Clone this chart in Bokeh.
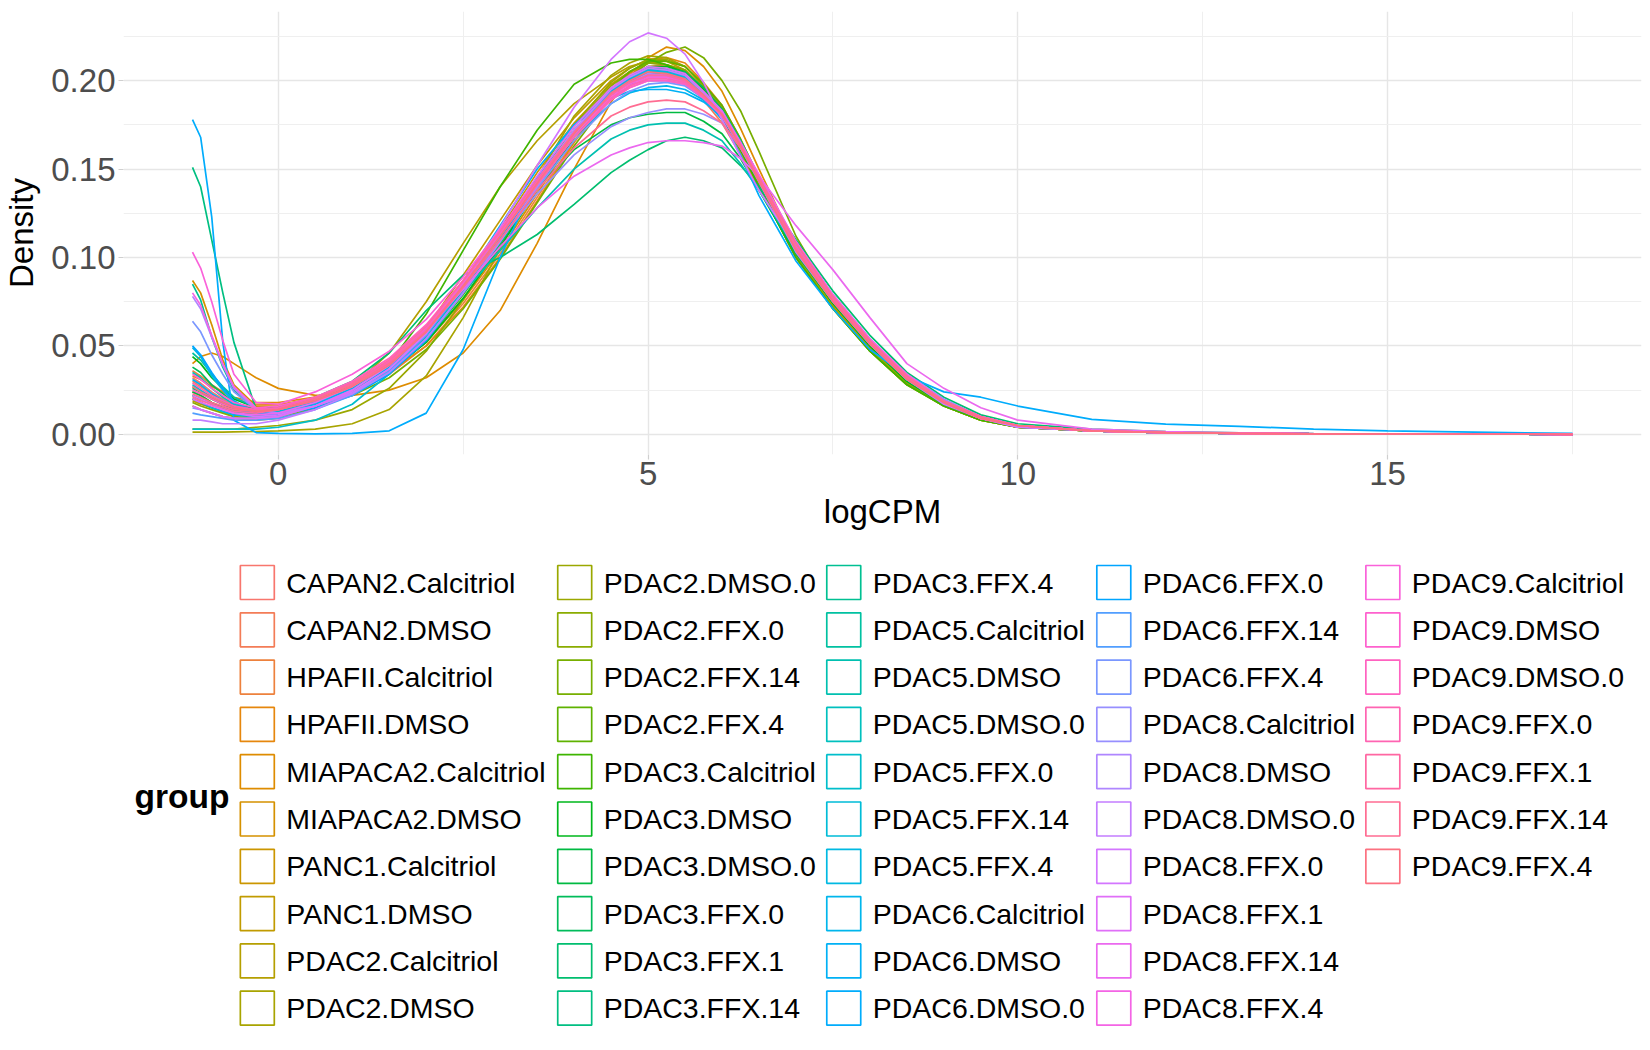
import math
from bokeh.plotting import figure
from bokeh.layouts import column
from bokeh.models import Range1d, FixedTicker, NumeralTickFormatter, ColumnDataSource
from bokeh.core.properties import value
from bokeh.embed import file_html
from bokeh.resources import INLINE

# ---------------- data ----------------
LOGCPM = [-1.16, -1.05, -0.9, -0.75, -0.6, -0.3, 0, 0.5, 1, 1.5, 2, 2.5, 3, 3.5, 4, 4.5,
          4.75, 5, 5.25, 5.5, 5.75, 6, 6.25, 6.5, 7, 7.5, 8, 8.5, 9, 9.5, 10,
          11, 12, 13, 14, 15, 17.5]

GROUPS = [
    "CAPAN2.Calcitriol", "CAPAN2.DMSO", "HPAFII.Calcitriol", "HPAFII.DMSO",
    "MIAPACA2.Calcitriol", "MIAPACA2.DMSO", "PANC1.Calcitriol", "PANC1.DMSO",
    "PDAC2.Calcitriol", "PDAC2.DMSO", "PDAC2.DMSO.0", "PDAC2.FFX.0", "PDAC2.FFX.14",
    "PDAC2.FFX.4", "PDAC3.Calcitriol", "PDAC3.DMSO", "PDAC3.DMSO.0", "PDAC3.FFX.0",
    "PDAC3.FFX.1", "PDAC3.FFX.14", "PDAC3.FFX.4", "PDAC5.Calcitriol", "PDAC5.DMSO",
    "PDAC5.DMSO.0", "PDAC5.FFX.0", "PDAC5.FFX.14", "PDAC5.FFX.4", "PDAC6.Calcitriol",
    "PDAC6.DMSO", "PDAC6.DMSO.0", "PDAC6.FFX.0", "PDAC6.FFX.14", "PDAC6.FFX.4",
    "PDAC8.Calcitriol", "PDAC8.DMSO", "PDAC8.DMSO.0", "PDAC8.FFX.0", "PDAC8.FFX.1",
    "PDAC8.FFX.14", "PDAC8.FFX.4", "PDAC9.Calcitriol", "PDAC9.DMSO", "PDAC9.DMSO.0",
    "PDAC9.FFX.0", "PDAC9.FFX.1", "PDAC9.FFX.14", "PDAC9.FFX.4",
]

DENSITY = [
    [.032,.029,.024,.020,.016,.013,.014,.019,.026,.037,.055,.080,.107,.140,.170,.193,.201,.206,.205,.201,.191,.178,.160,.140,.103,.076,.052,.032,.018,.009,.005,.002,.001,.0005,.0003,.0002,0],
    [.030,.027,.023,.019,.016,.013,.014,.020,.028,.040,.058,.083,.110,.142,.171,.194,.202,.207,.205,.200,.189,.176,.158,.139,.102,.075,.051,.031,.018,.009,.005,.002,.001,.0005,.0003,.0002,0],
    [.036,.033,.028,.024,.020,.017,.017,.020,.025,.034,.050,.074,.102,.134,.166,.192,.201,.208,.209,.206,.196,.184,.166,.145,.105,.076,.051,.031,.017,.009,.004,.002,.001,.0005,.0003,.0002,0],
    [.033,.031,.027,.024,.021,.018,.018,.021,.026,.035,.050,.072,.100,.132,.165,.193,.204,.212,.213,.210,.199,.186,.167,.145,.104,.075,.050,.030,.017,.009,.004,.002,.001,.0005,.0003,.0002,0],
    [.040,.044,.046,.044,.040,.032,.026,.022,.022,.025,.032,.046,.070,.108,.150,.188,.202,.213,.219,.217,.208,.194,.173,.150,.106,.075,.050,.030,.017,.009,.004,.002,.001,.0005,.0003,.0002,0],
    [.087,.080,.062,.042,.028,.016,.016,.021,.027,.036,.052,.076,.104,.136,.168,.194,.203,.210,.211,.208,.198,.185,.166,.144,.102,.073,.049,.030,.017,.009,.004,.002,.001,.0005,.0003,.0002,0],
    [.022,.020,.017,.014,.012,.010,.011,.016,.024,.037,.058,.086,.116,.148,.176,.198,.205,.210,.209,.204,.193,.180,.161,.140,.101,.073,.049,.030,.017,.009,.004,.002,.001,.0005,.0003,.0002,0],
    [.019,.017,.015,.013,.011,.010,.011,.016,.024,.038,.060,.090,.121,.152,.179,.200,.207,.212,.211,.206,.195,.181,.161,.140,.100,.072,.048,.029,.016,.008,.004,.002,.001,.0005,.0003,.0002,0],
    [.016,.014,.012,.010,.009,.008,.009,.015,.027,.046,.075,.108,.140,.166,.187,.202,.208,.211,.209,.205,.194,.180,.160,.140,.100,.071,.047,.028,.016,.008,.004,.002,.001,.0005,.0003,.0002,0],
    [.0013,.0013,.0013,.0013,.0014,.0016,.002,.003,.006,.014,.033,.066,.105,.145,.180,.203,.210,.214,.213,.208,.197,.183,.163,.141,.100,.071,.047,.028,.016,.008,.004,.002,.001,.0005,.0003,.0002,0],
    [.003,.003,.003,.003,.003,.004,.005,.008,.014,.026,.047,.076,.108,.142,.175,.199,.207,.212,.212,.208,.197,.184,.164,.143,.102,.072,.048,.029,.016,.008,.004,.002,.001,.0005,.0003,.0002,0],
    [.018,.016,.014,.012,.010,.009,.010,.015,.023,.036,.056,.083,.113,.145,.174,.197,.205,.210,.209,.206,.195,.183,.163,.143,.103,.074,.050,.030,.017,.009,.004,.002,.001,.0005,.0003,.0002,0],
    [.024,.022,.018,.015,.013,.011,.012,.016,.022,.032,.048,.071,.099,.131,.163,.191,.202,.210,.216,.219,.213,.200,.183,.160,.112,.077,.050,.030,.017,.009,.004,.002,.001,.0005,.0003,.0002,0],
    [.027,.024,.020,.017,.014,.012,.012,.017,.024,.035,.053,.079,.108,.140,.170,.195,.205,.211,.211,.208,.198,.186,.167,.145,.104,.075,.050,.030,.017,.009,.004,.002,.001,.0005,.0003,.0002,0],
    [.020,.018,.015,.013,.011,.010,.011,.016,.025,.040,.068,.104,.140,.172,.198,.210,.212,.212,.209,.204,.193,.180,.161,.140,.100,.071,.047,.028,.016,.008,.004,.002,.001,.0005,.0003,.0002,0],
    [.044,.040,.032,.026,.020,.015,.015,.019,.025,.035,.052,.077,.106,.138,.168,.193,.202,.208,.208,.205,.195,.183,.164,.143,.103,.074,.050,.030,.017,.009,.004,.002,.001,.0005,.0003,.0002,0],
    [.024,.022,.018,.015,.013,.011,.012,.018,.026,.039,.058,.084,.111,.139,.161,.175,.179,.181,.182,.182,.177,.170,.156,.138,.102,.075,.051,.031,.018,.009,.005,.002,.001,.0005,.0003,.0002,0],
    [.038,.035,.028,.023,.018,.014,.014,.019,.026,.037,.055,.080,.108,.139,.168,.192,.201,.207,.207,.205,.196,.184,.166,.145,.105,.076,.052,.032,.018,.009,.005,.002,.001,.0005,.0003,.0002,0],
    [.026,.024,.020,.017,.015,.013,.015,.021,.030,.046,.070,.090,.100,.113,.130,.148,.155,.161,.166,.168,.166,.162,.152,.140,.110,.081,.056,.035,.021,.011,.006,.003,.0015,.0008,.0004,.0002,0],
    [.151,.140,.110,.080,.052,.014,.012,.016,.023,.035,.054,.080,.108,.139,.169,.193,.201,.206,.206,.203,.193,.182,.163,.143,.104,.075,.051,.031,.018,.009,.005,.002,.001,.0005,.0003,.0002,0],
    [.085,.076,.055,.038,.025,.014,.013,.017,.024,.036,.055,.081,.110,.141,.170,.194,.202,.207,.206,.203,.193,.182,.164,.144,.105,.076,.052,.032,.018,.009,.005,.002,.001,.0005,.0003,.0002,0],
    [.046,.042,.034,.027,.021,.015,.014,.018,.025,.037,.056,.082,.110,.141,.170,.193,.200,.205,.205,.202,.193,.183,.166,.146,.107,.078,.053,.033,.019,.010,.005,.002,.001,.0005,.0003,.0002,0],
    [.022,.020,.017,.015,.013,.012,.013,.019,.027,.039,.057,.080,.104,.128,.150,.167,.172,.175,.176,.176,.172,.166,.153,.138,.104,.077,.053,.033,.019,.010,.005,.002,.001,.0005,.0003,.0002,0],
    [.035,.032,.026,.021,.017,.013,.013,.018,.026,.038,.057,.083,.111,.142,.170,.192,.199,.204,.204,.201,.192,.182,.164,.145,.106,.077,.052,.032,.018,.009,.005,.002,.001,.0005,.0003,.0002,0],
    [.003,.003,.003,.003,.003,.003,.004,.008,.017,.034,.056,.082,.110,.141,.170,.194,.202,.207,.206,.203,.193,.182,.163,.143,.104,.075,.051,.031,.018,.009,.005,.002,.001,.0005,.0003,.0002,0],
    [.028,.025,.021,.018,.015,.012,.013,.018,.026,.038,.057,.083,.112,.143,.172,.195,.202,.207,.206,.202,.192,.181,.163,.143,.104,.076,.052,.032,.018,.009,.005,.002,.001,.0005,.0003,.0002,0],
    [.049,.044,.033,.025,.018,.012,.012,.016,.023,.035,.054,.080,.109,.140,.170,.194,.201,.206,.205,.202,.192,.181,.163,.143,.104,.076,.052,.032,.018,.009,.005,.002,.001,.0005,.0003,.0002,0],
    [.020,.018,.015,.013,.011,.010,.011,.017,.026,.040,.060,.086,.114,.143,.168,.187,.193,.196,.197,.195,.189,.180,.164,.146,.108,.078,.053,.033,.019,.010,.005,.002,.001,.0005,.0003,.0002,0],
    [.031,.028,.023,.019,.015,.012,.012,.017,.025,.038,.058,.086,.118,.150,.175,.190,.194,.195,.195,.193,.188,.180,.164,.146,.107,.076,.051,.031,.018,.009,.005,.002,.001,.0005,.0003,.0002,0],
    [.178,.168,.123,.052,.008,.001,.0005,.0003,.0005,.002,.012,.048,.100,.145,.175,.193,.198,.200,.200,.198,.190,.178,.158,.135,.098,.071,.048,.033,.024,.021,.016,.0085,.0058,.0045,.003,.002,.0005],
    [.050,.045,.035,.026,.019,.012,.011,.015,.022,.034,.053,.080,.110,.141,.170,.193,.200,.204,.203,.200,.191,.180,.162,.143,.105,.077,.053,.033,.019,.010,.005,.002,.001,.0005,.0003,.0002,0],
    [.012,.011,.010,.009,.008,.008,.009,.014,.022,.036,.056,.083,.113,.144,.172,.193,.199,.202,.202,.199,.191,.181,.164,.145,.106,.077,.053,.033,.019,.010,.005,.002,.001,.0005,.0003,.0002,0],
    [.064,.058,.045,.034,.024,.014,.012,.016,.023,.035,.054,.080,.109,.139,.166,.187,.194,.198,.199,.197,.190,.181,.164,.146,.107,.078,.053,.033,.019,.010,.005,.002,.001,.0005,.0003,.0002,0],
    [.015,.014,.012,.010,.009,.009,.010,.016,.025,.039,.058,.083,.110,.136,.158,.174,.179,.182,.184,.184,.181,.176,.162,.146,.109,.079,.054,.034,.020,.010,.005,.002,.001,.0005,.0003,.0002,0],
    [.078,.071,.055,.039,.026,.014,.012,.016,.023,.035,.054,.080,.109,.140,.169,.192,.199,.204,.203,.200,.191,.180,.162,.143,.104,.076,.052,.032,.018,.009,.005,.002,.001,.0005,.0003,.0002,0],
    [.008,.008,.007,.006,.006,.006,.008,.014,.023,.037,.057,.084,.113,.144,.172,.195,.202,.207,.206,.203,.193,.182,.163,.143,.103,.075,.051,.031,.017,.009,.004,.002,.001,.0005,.0003,.0002,0],
    [.022,.020,.017,.014,.012,.010,.011,.016,.024,.037,.057,.085,.117,.152,.185,.212,.222,.227,.224,.215,.199,.178,.157,.138,.106,.077,.052,.032,.018,.009,.004,.002,.001,.0005,.0003,.0002,0],
    [.016,.014,.012,.010,.009,.009,.010,.016,.025,.039,.059,.086,.115,.146,.174,.196,.203,.208,.207,.204,.194,.183,.165,.145,.106,.077,.052,.032,.018,.009,.005,.002,.001,.0005,.0003,.0002,0],
    [.020,.018,.016,.014,.012,.011,.012,.018,.027,.040,.059,.082,.106,.128,.146,.158,.162,.165,.166,.166,.165,.163,.156,.146,.118,.093,.066,.040,.026,.015,.008,.003,.0015,.0008,.0004,.0002,0],
    [.080,.073,.056,.040,.027,.015,.014,.019,.027,.040,.060,.087,.115,.144,.170,.190,.196,.200,.200,.198,.191,.182,.165,.147,.109,.079,.054,.034,.019,.010,.005,.002,.001,.0005,.0003,.0002,0],
    [.103,.094,.075,.053,.034,.018,.017,.024,.034,.047,.065,.089,.116,.144,.170,.191,.197,.202,.202,.199,.191,.181,.164,.145,.106,.077,.052,.032,.018,.009,.005,.002,.001,.0005,.0003,.0002,0],
    [.034,.031,.026,.022,.018,.015,.016,.021,.029,.041,.060,.086,.114,.143,.170,.192,.198,.203,.203,.200,.191,.181,.163,.144,.105,.076,.052,.032,.018,.009,.005,.002,.001,.0005,.0003,.0002,0],
    [.025,.023,.020,.017,.015,.014,.015,.021,.030,.043,.062,.087,.114,.142,.168,.189,.196,.200,.200,.198,.190,.180,.163,.144,.105,.076,.052,.032,.018,.009,.005,.002,.001,.0005,.0003,.0002,0],
    [.029,.026,.022,.019,.016,.014,.015,.021,.029,.041,.059,.084,.112,.141,.168,.190,.197,.201,.201,.199,.191,.181,.164,.145,.106,.077,.052,.032,.018,.009,.005,.002,.001,.0005,.0003,.0002,0],
    [.021,.019,.017,.015,.013,.012,.014,.020,.029,.042,.061,.087,.115,.144,.171,.192,.199,.203,.203,.200,.191,.181,.163,.144,.105,.076,.052,.032,.018,.009,.005,.002,.001,.0005,.0003,.0002,0],
    [.023,.021,.018,.016,.014,.013,.014,.020,.028,.040,.058,.083,.110,.138,.162,.180,.185,.188,.189,.188,.183,.176,.162,.145,.108,.078,.053,.033,.019,.010,.005,.002,.001,.0005,.0003,.0002,0],
    [.027,.024,.021,.018,.015,.013,.014,.019,.027,.039,.058,.084,.112,.142,.170,.193,.200,.205,.204,.201,.192,.181,.163,.143,.104,.075,.051,.031,.018,.009,.005,.002,.001,.0005,.0003,.0002,0],
]

X_TICKS = [0, 5, 10, 15]
X_MINOR = [2.5, 7.5, 12.5, 17.5]
Y_TICKS = [0.0, 0.05, 0.10, 0.15, 0.20]
Y_MINOR = [0.025, 0.075, 0.125, 0.175, 0.225]

for _g, _d in zip(GROUPS, DENSITY):
    if len(_d) != len(LOGCPM):
        raise ValueError("length mismatch for %s: %d" % (_g, len(_d)))

FONT = "Liberation Sans"


# ggplot2 default discrete hue palette: hcl(h, c=100, l=65)
def hcl_hex(h, c=100.0, l=65.0):
    WY, Wu, Wv = 100.0, 0.1978398, 0.4683363
    hr = math.radians(h)
    U, V = c * math.cos(hr), c * math.sin(hr)
    Y = WY * (((l + 16.0) / 116.0) ** 3 if l > 7.999592 else l / 903.3)
    u = U / (13.0 * l) + Wu
    v = V / (13.0 * l) + Wv
    X = 9.0 * Y * u / (4.0 * v)
    Z = -X / 3.0 - 5.0 * Y + 3.0 * Y / v

    def gam(t):
        return 1.055 * t ** (1 / 2.4) - 0.055 if t > 0.00304 else 12.92 * t

    r = gam((3.240479 * X - 1.537150 * Y - 0.498535 * Z) / WY)
    g = gam((-0.969256 * X + 1.875992 * Y + 0.041556 * Z) / WY)
    b = gam((0.055648 * X - 0.204043 * Y + 1.057311 * Z) / WY)
    to = lambda t: int(round(255 * max(0.0, min(1.0, t))))
    return "#%02X%02X%02X" % (to(r), to(g), to(b))


n = len(GROUPS)
COLORS = [hcl_hex(15 + i * 360.0 / n) for i in range(n)]

W = 1644
FRAME_L, FRAME_R = 121, 1641
MAIN_H = 544

# ---------------- main density plot ----------------
p = figure(width=W, height=MAIN_H, output_backend="svg", toolbar_location=None,
           x_range=Range1d(-2.093, 18.433), y_range=Range1d(-0.0114, 0.2391),
           min_border_left=FRAME_L, min_border_right=W - FRAME_R,
           min_border_top=11, min_border_bottom=90,
           background_fill_color="white", border_fill_color="white")
p.outline_line_color = None

for grp, ys, col in zip(GROUPS, DENSITY, COLORS):
    p.line(LOGCPM, ys, line_color=col, line_width=1.7)

p.xaxis.ticker = FixedTicker(ticks=X_TICKS, minor_ticks=X_MINOR)
p.yaxis.ticker = FixedTicker(ticks=Y_TICKS, minor_ticks=Y_MINOR)
p.yaxis.formatter = NumeralTickFormatter(format="0.00")

for ax in (p.xaxis, p.yaxis):
    ax.axis_line_color = None
    ax.major_tick_line_color = "#CFCFCF"
    ax.major_tick_line_width = 1.2
    ax.major_tick_out = 5
    ax.major_tick_in = 0
    ax.minor_tick_line_color = None
    ax.major_label_text_font = FONT
    ax.major_label_text_font_size = "33px"
    ax.major_label_text_color = "#4D4D4D"
    ax.axis_label_text_font = FONT
    ax.axis_label_text_font_size = "33px"
    ax.axis_label_text_font_style = "normal"
    ax.axis_label_text_color = "black"

p.xaxis.axis_label = "logCPM"
p.yaxis.axis_label = "Density"
p.xaxis.major_label_standoff = 2
p.xaxis.axis_label_standoff = 5
p.yaxis.major_label_standoff = 3
p.yaxis.axis_label_standoff = 8

p.grid.grid_line_color = "#E6E6E6"
p.grid.grid_line_width = 1.4
p.grid.minor_grid_line_color = "#EFEFEF"
p.grid.minor_grid_line_width = 1.0

# ---------------- legend (drawn as its own panel, page-pixel coordinates) ----------------
LEG_H = 490
lg = figure(width=W, height=LEG_H, output_backend="svg", toolbar_location=None,
            x_range=Range1d(FRAME_L, FRAME_R), y_range=Range1d(LEG_H, 0),
            x_axis_type=None, y_axis_type=None,
            min_border_left=FRAME_L, min_border_right=W - FRAME_R,
            min_border_top=0, min_border_bottom=0,
            background_fill_color="white", border_fill_color="white")
lg.outline_line_color = None
lg.grid.visible = False

COL_LEFT = [238, 555.8, 825.2, 1095.6, 1365]
ROWS = 10
ROW_TOP = 582 - MAIN_H
ROW_STEP = 47.3
KEY = 34
TEXT_GAP = 46

kx, ky, tx = [], [], []
for i in range(n):
    c, r = divmod(i, ROWS)
    kx.append(COL_LEFT[c] + KEY / 2)
    ky.append(ROW_TOP + ROW_STEP * r)
    tx.append(COL_LEFT[c] + TEXT_GAP)

src = ColumnDataSource(dict(kx=kx, ky=ky, tx=tx, label=GROUPS, color=COLORS))
lg.rect(x="kx", y="ky", width=KEY, height=KEY, source=src,
        fill_color=None, line_color="color", line_width=1.7)
lg.text(x="tx", y="ky", text="label", source=src,
        text_font=value(FONT), text_font_size=value("28.5px"),
        text_baseline="middle", text_align="left", text_color="black")
lg.text(x=[132], y=[795.5 - MAIN_H], text=["group"],
        text_font=value(FONT), text_font_size=value("33.5px"), text_font_style="bold",
        text_baseline="middle", text_align="left", text_color="black")

layout = column(p, lg, spacing=0)
open("out.html", "w").write(file_html(layout, INLINE))
